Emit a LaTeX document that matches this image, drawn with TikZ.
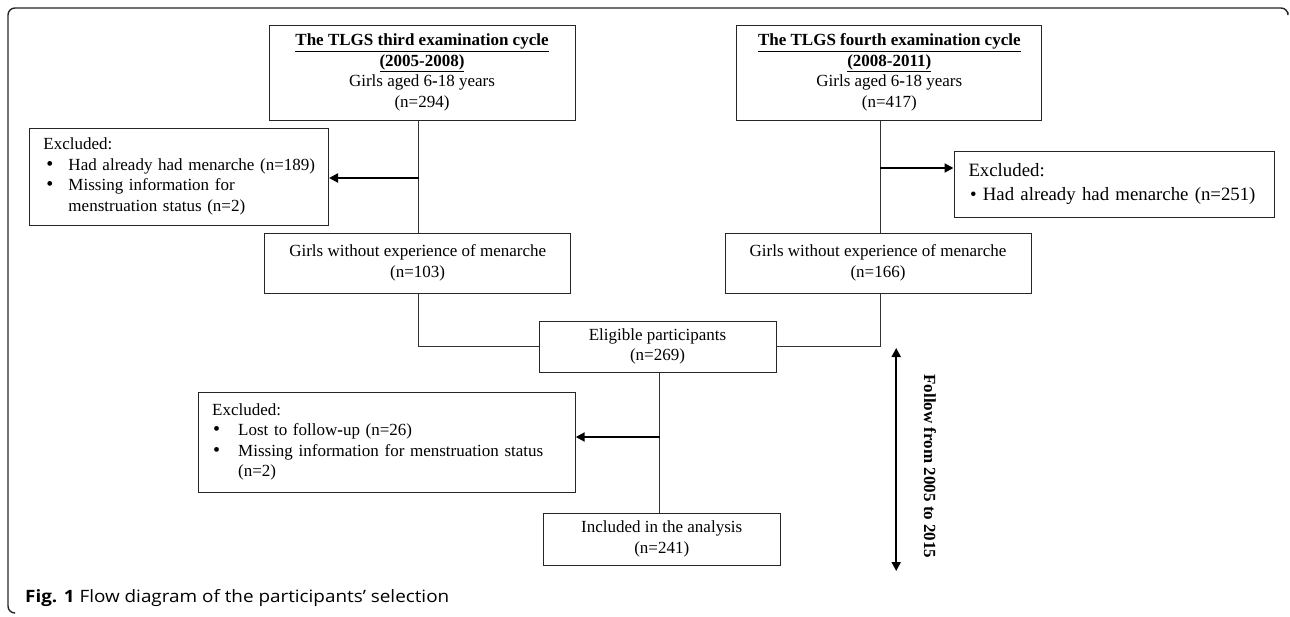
\documentclass[tikz,border=0pt]{standalone}
\usepackage{fontspec}
\setmainfont{Liberation Serif}
\newfontfamily\capfont{Open Sans}[FakeStretch=1.11]
\usetikzlibrary{arrows.meta,calc}
\tikzset{
  boxnode/.style={draw=black!85, line width=1pt, inner sep=0pt, align=center,
    font=\fontsize{17}{20.5}\selectfont},
  listnode/.style={draw=black!85, line width=1pt, inner ysep=0pt, inner xsep=1pt, align=left,
    font=\fontsize{17}{20.5}\selectfont},
  conn/.style={draw=black!80, line width=1.2pt},
  arr/.style={draw=black, line width=2pt, -{Triangle[length=9pt,width=9pt]}},
  dblarr/.style={draw=black, line width=2pt, {Triangle[length=9pt,width=9pt]}-{Triangle[length=9pt,width=9pt]}},
}
\newcommand{\bigdot}{{\fontsize{20}{20}\selectfont\textbullet}}
\newcommand{\bul}[2]{\hspace*{#1}\makebox[#2][l]{\bigdot}}
\begin{document}
\begin{tikzpicture}[x=1pt,y=-1pt]
\useasboundingbox (0,0) rectangle (1290,616);
% frame
\draw[black!85, line width=1.4pt, rounded corners=7pt] (1288,12) -- (1288,8) -- (8,8) -- (8,613) -- (14,613);

% top boxes
\node[boxnode, minimum width=306pt, minimum height=95pt] (t1) at (422,72.5)
  {\underline{\textbf{The TLGS third examination cycle}}\\\underline{\textbf{(2005-2008)}}\\Girls aged 6\textbf{-}18 years\\(n=294)\rule[-3pt]{0pt}{3pt}};
\node[boxnode, minimum width=305pt, minimum height=95pt] (t2) at (889.3,72.5)
  {\underline{\textbf{The TLGS fourth examination cycle}}\\\underline{\textbf{(2008-2011)}}\\Girls aged 6\textbf{-}18 years\\(n=417)\rule[-3pt]{0pt}{3pt}};

% exclusion boxes
\node[listnode, text width=297pt, minimum height=97pt] (e1) at (179,176.5)
  {\hspace*{13pt}Excluded:\\
   \bul{16pt}{22pt}Had already had menarche (n=189)\\
   \bul{16pt}{22pt}Missing information for\\
   \hspace*{38pt}menstruation status (n=2)};
\node[listnode, text width=318pt, minimum height=66pt,
      font=\fontsize{18.8}{24}\selectfont] (e2) at (1114,184)
  {\hspace*{13.5pt}Excluded:\\
   \hspace*{15pt}\textbullet\ Had already had menarche (n=251)};

% girls without
\node[boxnode, minimum width=306pt, minimum height=60pt] (g1) at (417.7,263)
  {Girls without experience of menarche\\(n=103)};
\node[boxnode, minimum width=306pt, minimum height=60pt] (g2) at (878,263)
  {Girls without experience of menarche\\(n=166)};

% eligible
\node[boxnode, minimum width=237pt, minimum height=51pt] (el) at (657.5,346.5)
  {Eligible participants\\(n=269)};

% exclusion bottom
\node[listnode, text width=375pt, minimum height=100pt] (e3) at (386.7,442)
  {\hspace*{13pt}Excluded:\\
   \bul{14pt}{25pt}Lost to follow\textbf{-}up (n=26)\\
   \bul{14pt}{25pt}Missing information for menstruation status\\
   \hspace*{39pt}(n=2)};

% included
\node[boxnode, minimum width=237pt, minimum height=52pt] (in) at (661.7,539)
  {Included in the analysis\\(n=241)};

% connectors
\coordinate (xl) at (418.5,0);
\coordinate (xr) at (880.4,0);
\coordinate (xc) at (659.5,0);
\draw[conn] (t1.south -| xl) -- (g1.north -| xl);
\draw[arr] (xl |- 0,178) -- (e1.east |- 0,178);
\draw[conn] (g1.south -| xl) |- (el.west);

\draw[conn] (t2.south -| xr) -- (g2.north -| xr);
\draw[arr] (xr |- 0,168) -- (e2.west |- 0,168);
\draw[conn] (g2.south -| xr) |- (el.east);

\draw[conn] (el.south -| xc) -- (in.north -| xc);
\draw[arr] (xc |- 0,437) -- (e3.east |- 0,437);

% follow-up arrow
\coordinate (ft) at (896.2,348);
\coordinate (fb) at (896.2,571);
\draw[dblarr] (ft) -- (fb);
\node[rotate=-90, font=\fontsize{17}{20}\selectfont\bfseries] (fl) at (930,466.5) {Follow from 2005 to 2015};

% caption
\node[anchor=base west, inner sep=0pt, font=\capfont\fontsize{17}{20}\selectfont] (cap) at (25,602)
  {\textbf{Fig. 1} Flow diagram of the participants’ selection};
\end{tikzpicture}
\end{document}
